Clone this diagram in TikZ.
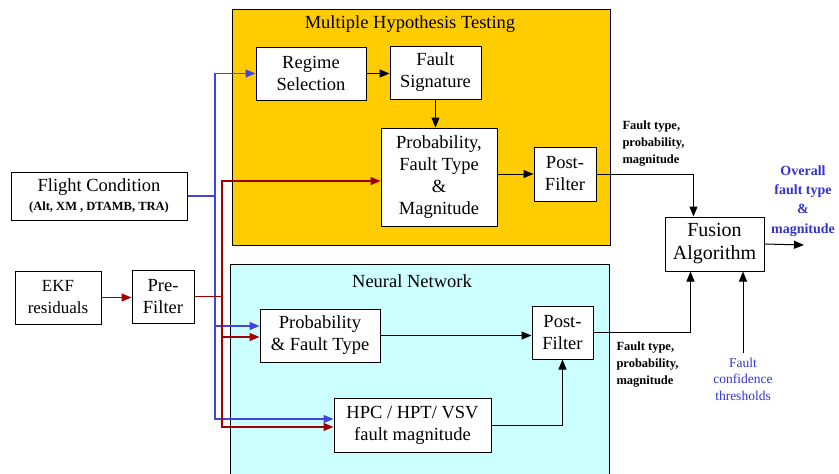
\documentclass[tikz,border=0pt]{standalone}
\usepackage{fontspec}
\setmainfont{Liberation Serif}
\usetikzlibrary{arrows.meta}
\definecolor{mhtorange}{RGB}{255,204,0}
\definecolor{nncyan}{RGB}{204,255,255}
\definecolor{wireblue}{RGB}{68,68,221}
\definecolor{wirered}{RGB}{160,0,0}
\definecolor{textblue}{RGB}{51,51,204}

\begin{document}
\begin{tikzpicture}[x=1pt,y=-1pt,
     >={Triangle[length=10pt,width=8pt]},line width=1pt,
     block/.style={draw,fill=white,align=center,inner sep=0pt,
       font=\fontsize{18.5}{22}\selectfont},
     group box/.style={draw,line width=0.9pt,inner sep=0pt},
     blue wire/.style={->,draw=wireblue,line width=1.4pt},
     red wire/.style={->,draw=wirered,line width=1.4pt},
     tag/.style={align=left,inner sep=0pt,font=\fontsize{12.5}{17}\selectfont\bfseries}]

      \useasboundingbox (0,0) rectangle (839,474);

      % the two groups
      \node[group box,fill=mhtorange,minimum width=378pt,minimum height=236pt] (mht) at (421,127) {};
      \node[group box,fill=nncyan,minimum width=379pt,minimum height=220pt] (nn) at (419.5,374) {};
      \node[font=\fontsize{18.5}{22}\selectfont] (mhttitle) at (410,24) {Multiple Hypothesis Testing};
      \node[font=\fontsize{18.5}{22}\selectfont] (nntitle) at (412,281) {Neural Network};

      % blocks
      \node[block,minimum width=110pt,minimum height=53pt] (regime) at (311,73.5) {Regime\\Selection};
      \node[block,minimum width=91pt,minimum height=53pt] (faultsig) at (435.5,72.5) {Fault\\Signature};
      \node[block,minimum width=116pt,minimum height=98pt] (mhtprob) at (439,177) {Probability,\\Fault Type\\\&\\Magnitude};
      \node[block,minimum width=62pt,minimum height=54pt] (mhtpost) at (565,174) {Post-\\Filter};
      \node[block,minimum width=120pt,minimum height=53pt] (nnprob) at (320,335.5) {Probability\\\& Fault Type};
      \node[block,minimum width=61pt,minimum height=53pt] (nnpost) at (562.5,332.5) {Post-\\Filter};
      \node[block,minimum width=157pt,minimum height=54pt] (hpc) at (412.5,425) {HPC / HPT/ VSV\\fault magnitude};
      \node[block,minimum width=176pt,minimum height=48pt] (flight) at (99,196)
        {Flight Condition\\[-3pt]{\fontsize{12.5}{15}\selectfont\bfseries (Alt, XM , DTAMB, TRA)}};
      \node[block,minimum width=86pt,minimum height=53pt,font=\fontsize{17}{22}\selectfont] (ekf) at (58,297.5) {EKF\\residuals};
      \node[block,minimum width=62pt,minimum height=53pt] (pre) at (163,296.5) {Pre-\\Filter};
      \node[block,minimum width=99pt,minimum height=54pt,font=\fontsize{20}{23}\selectfont] (fusion) at (714.5,244) {Fusion\\Algorithm};

      % labels
      \node[tag,anchor=west] (mhtout) at (622,144) {Fault type,\\probability,\\magnitude};
      \node[tag,anchor=west] (nnout) at (616,365) {Fault type,\\probability,\\magnitude};
      \node[align=center,inner sep=0pt,text=textblue,font=\fontsize{14}{19.3}\selectfont\bfseries] (overall) at (803,201) {Overall\\fault type\\\&\\magnitude};
      \node[align=center,inner sep=0pt,text=textblue,font=\fontsize{13.5}{16.5}\selectfont] (thresh) at (743,379) {Fault\\confidence\\thresholds};
      \coordinate (outend) at (804,245);
      \coordinate (bbus) at (215,0);
      \coordinate (rbus) at (222,0);

      % black connectors
      \foreach \s/\t in {regime/faultsig, nnprob/nnpost} {
       \draw[->] (\s.east) -- (\s.east -| \t.west);}
      \draw[->] (mhtpost.west -| mhtprob.east) -- (mhtpost.west);
      \draw[->] (faultsig.south) -- (faultsig.south |- mhtprob.north);
      \draw[->] (mhtpost.east) -| ([xshift=-21pt]fusion.north);
      \draw[->] (nnpost.east) -| ([xshift=-24pt]fusion.south);
      \draw[->] (hpc.east) -| (nnpost.south);
      \draw[->] ([yshift=4pt]thresh.north) -- (thresh.north |- fusion.south);
      \draw[->] (fusion.east) -- (outend);

      % flight condition wires
      \draw[blue wire] (flight.east) -| (bbus |- regime.west) -- (regime.west);
      \draw[blue wire] (bbus |- flight.east) |- ([yshift=9.5pt]nnprob.west);
      \draw[blue wire] (bbus |- flight.east) |- ([yshift=6pt]hpc.west);

      % residual wires
      \draw[red wire] (ekf.east) -- (ekf.east -| pre.west);
      \draw[red wire] (pre.east) -- (rbus |- pre.east) |- ([yshift=-4pt]mhtprob.west);
      \draw[red wire] (rbus |- pre.east) |- ([yshift=-1.5pt]nnprob.west);
      \draw[red wire] (rbus |- pre.east) |- ([yshift=-2pt]hpc.west);
    \end{tikzpicture}
\end{document}
